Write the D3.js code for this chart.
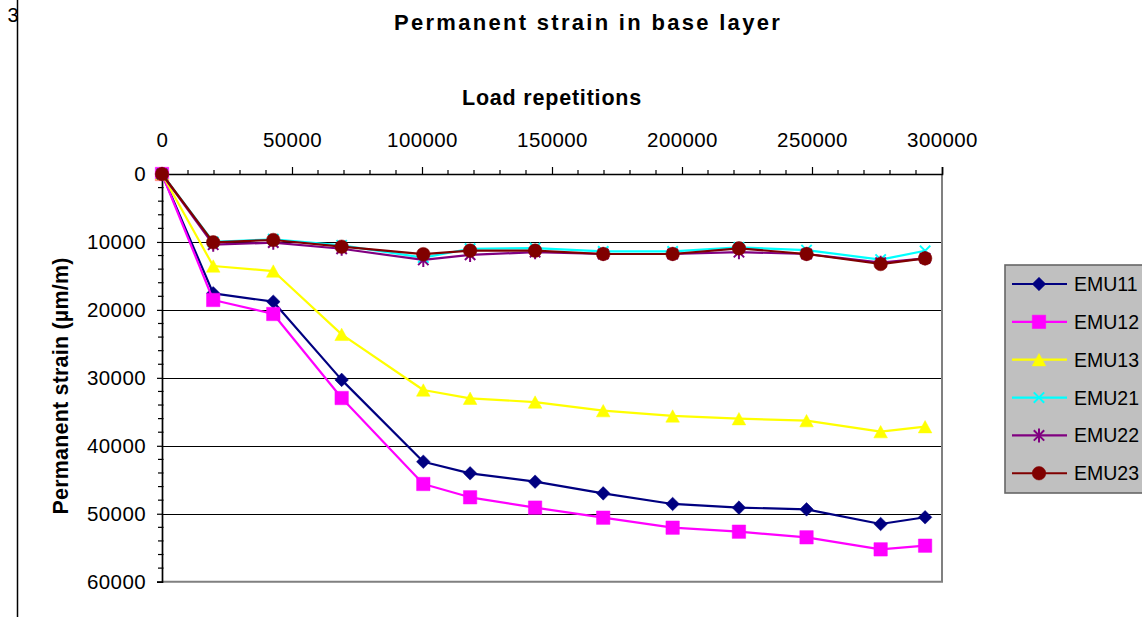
<!DOCTYPE html>
<html>
<head>
<meta charset="utf-8">
<script src="https://cdn.jsdelivr.net/npm/d3@7"></script>
<style>
  html, body { margin: 0; padding: 0; background: #fff; }
  svg { display: block; font-family: "Liberation Sans", Arial, sans-serif; }
</style>
</head>
<body>
<svg id="chart" width="1142" height="617"></svg>
<script>
// Load repetitions at which strain was recorded
const loadReps = [0, 19700, 42800, 69100, 100500, 118500, 143500, 169700, 196400, 221900, 247900, 276400, 293500];

// Permanent strain (µm/m) per section
const emu11 = [0, 17560, 18790, 30300, 42340, 44050, 45280, 47000, 48560, 49100, 49350, 51510, 50520];
const emu12 = [0, 18540, 20600, 32970, 45620, 47580, 49100, 50580, 52050, 52640, 53470, 55240, 54700];
const emu13 = [0, 13540, 14280, 23600, 31790, 33010, 33560, 34830, 35610, 36010, 36300, 37920, 37190];
const emu21 = [0, 10000, 9600, 10500, 12300, 11000, 10900, 11400, 11400, 10800, 11200, 12600, 11300];
const emu22 = [0, 10400, 10100, 11000, 12650, 11900, 11500, 11770, 11770, 11500, 11770, 13050, 12410];
const emu23 = [0, 10050, 9710, 10700, 11800, 11280, 11280, 11770, 11770, 10940, 11770, 13250, 12410];

const seriesNames = ["EMU11", "EMU12", "EMU13", "EMU21", "EMU22", "EMU23"];
const seriesValues = [emu11, emu12, emu13, emu21, emu22, emu23];
const seriesColors = ["#000080", "#FF00FF", "#FFFF00", "#00FFFF", "#800080", "#800000"];
const seriesMarkers = ["diamond", "square", "triangle", "cross", "star", "circle"];

const xTicks = [0, 50000, 100000, 150000, 200000, 250000, 300000];
const yTicks = [0, 10000, 20000, 30000, 40000, 50000, 60000];

const svg = d3.select("#chart");
const FONT = "\"Liberation Sans\", Arial, sans-serif";

const x = d3.scaleLinear().domain([0, 300000]).range([162, 942]);
const y = d3.scaleLinear().domain([0, 60000]).range([174, 581.7]);

// page margin rule and page number
svg.append("line")
  .attr("x1", 17.5).attr("x2", 17.5).attr("y1", 0).attr("y2", 617)
  .attr("stroke", "#000").attr("stroke-width", 1.5);
svg.append("text")
  .attr("x", 18.5).attr("y", 21.5)
  .attr("text-anchor", "end")
  .attr("font-size", 20)
  .text("3");

// plot area
svg.append("rect")
  .attr("x", x(0)).attr("y", y(0))
  .attr("width", x(300000) - x(0)).attr("height", y(60000) - y(0))
  .attr("fill", "#fff");

// horizontal gridlines
svg.append("g")
  .selectAll("line")
  .data(yTicks.filter(d => d > 0 && d < 60000))
  .join("line")
  .attr("x1", x(0)).attr("x2", x(300000))
  .attr("y1", d => Math.round(y(d)) + 0.5).attr("y2", d => Math.round(y(d)) + 0.5)
  .attr("stroke", "#000").attr("stroke-width", 1);

// right and bottom border of the plot area
svg.append("path")
  .attr("d", `M${x(300000)},${y(0)}V${y(60000)}H${x(0)}`)
  .attr("fill", "none").attr("stroke", "#808080").attr("stroke-width", 2);

// top x axis
const xAxis = d3.axisTop(x)
  .tickValues(xTicks)
  .tickSize(7)
  .tickPadding(20)
  .tickFormat(d3.format("d"));
const gx = svg.append("g")
  .attr("transform", `translate(0,${y(0)})`)
  .call(xAxis);
gx.select(".domain").attr("stroke", "#000").attr("stroke-width", 1.7);
gx.selectAll(".tick line").attr("stroke", "#000").attr("stroke-width", 1.2);
gx.selectAll(".tick text")
  .attr("font-family", FONT).attr("font-size", 20.5)
  .attr("letter-spacing", 0.4).attr("fill", "#000");
gx.selectAll(".minor")
  .data(d3.range(10000, 300000, 10000).filter(d => d % 50000 !== 0))
  .join("line")
  .attr("class", "minor")
  .attr("x1", d => x(d)).attr("x2", d => x(d))
  .attr("y1", 0).attr("y2", -4)
  .attr("stroke", "#000").attr("stroke-width", 1.2);

// left y axis
const yAxis = d3.axisLeft(y)
  .tickValues(yTicks)
  .tickSize(5)
  .tickPadding(11)
  .tickFormat(d3.format("d"));
const gy = svg.append("g")
  .attr("transform", `translate(${x(0)},0)`)
  .call(yAxis);
gy.select(".domain").attr("stroke", "#000").attr("stroke-width", 1.7);
gy.selectAll(".tick line").attr("stroke", "#000").attr("stroke-width", 1.2);
gy.selectAll(".tick text")
  .attr("font-family", FONT).attr("font-size", 20.5)
  .attr("letter-spacing", 0.4).attr("fill", "#000");
gy.selectAll(".minor")
  .data(d3.range(2000, 60000, 2000).filter(d => d % 10000 !== 0))
  .join("line")
  .attr("class", "minor")
  .attr("x1", -4).attr("x2", 1.5)
  .attr("y1", d => y(d)).attr("y2", d => y(d))
  .attr("stroke", "#000").attr("stroke-width", 1.2);

// titles
svg.append("text")
  .attr("x", 588).attr("y", 29.5)
  .attr("text-anchor", "middle")
  .attr("font-size", 22).attr("font-weight", "bold")
  .attr("letter-spacing", 2.3)
  .text("Permanent strain in base layer");
svg.append("text")
  .attr("x", 552).attr("y", 105)
  .attr("text-anchor", "middle")
  .attr("font-size", 21.5).attr("font-weight", "bold")
  .attr("letter-spacing", 0.8)
  .text("Load repetitions");
svg.append("text")
  .attr("transform", "translate(68,386) rotate(-90)")
  .attr("text-anchor", "middle")
  .attr("font-size", 21.5).attr("font-weight", "bold")
  .attr("letter-spacing", 0.2)
  .text("Permanent strain (µm/m)");

// marker shapes
function markerPath(type) {
  const p = d3.path();
  if (type === "diamond") {
    const r = 6.8;
    p.moveTo(0, -r); p.lineTo(r, 0); p.lineTo(0, r); p.lineTo(-r, 0); p.closePath();
  } else if (type === "square") {
    const r = 6.7;
    p.rect(-r, -r, 2 * r, 2 * r);
  } else if (type === "triangle") {
    const w = 6.8, h = 6.2;
    p.moveTo(0, -h); p.lineTo(w, h); p.lineTo(-w, h); p.closePath();
  } else if (type === "circle") {
    p.arc(0, 0, 6.8, 0, 2 * Math.PI);
  } else if (type === "cross") {
    const r = 5.2;
    p.moveTo(-r, -r); p.lineTo(r, r); p.moveTo(r, -r); p.lineTo(-r, r);
  } else if (type === "star") {
    const r = 5.2;
    p.moveTo(-r, -r); p.lineTo(r, r); p.moveTo(r, -r); p.lineTo(-r, r);
    p.moveTo(0, -r * 1.35); p.lineTo(0, r * 1.35);
  }
  return p.toString();
}
function styleMarker(sel, type, color) {
  const stroked = type === "cross" || type === "star";
  sel.attr("d", markerPath(type))
    .attr("fill", stroked ? "none" : color)
    .attr("stroke", color)
    .attr("stroke-width", stroked ? 2 : 0.5);
}

const line = d3.line()
  .x((d, i) => x(loadReps[i]))
  .y(d => y(d));

seriesValues.forEach((vals, s) => {
  const g = svg.append("g");
  g.append("path")
    .attr("d", line(vals))
    .attr("fill", "none")
    .attr("stroke", seriesColors[s])
    .attr("stroke-width", 2.2)
    .attr("stroke-linejoin", "round");
  g.selectAll("path.marker")
    .data(vals)
    .join("path")
    .attr("class", "marker")
    .attr("transform", (d, i) => `translate(${x(loadReps[i])},${y(d)})`)
    .call(sel => styleMarker(sel, seriesMarkers[s], seriesColors[s]));
});

// legend
const legend = svg.append("g");
legend.append("rect")
  .attr("x", 1005).attr("y", 265)
  .attr("width", 160).attr("height", 228)
  .attr("fill", "#C0C0C0")
  .attr("stroke", "#666").attr("stroke-width", 1.6);
const item = legend.selectAll("g.item")
  .data(seriesNames)
  .join("g")
  .attr("class", "item")
  .attr("transform", (d, i) => `translate(0,${284 + i * 37.85})`);
item.append("line")
  .attr("x1", 1012).attr("x2", 1067)
  .attr("stroke", (d, i) => seriesColors[i])
  .attr("stroke-width", 2.2);
item.append("path")
  .attr("transform", "translate(1039,0)")
  .each(function(d, i) { styleMarker(d3.select(this), seriesMarkers[i], seriesColors[i]); });
item.append("text")
  .attr("x", 1074).attr("y", 0).attr("dy", "0.36em")
  .attr("font-size", 19.5)
  .text(d => d);
</script>
</body>
</html>
